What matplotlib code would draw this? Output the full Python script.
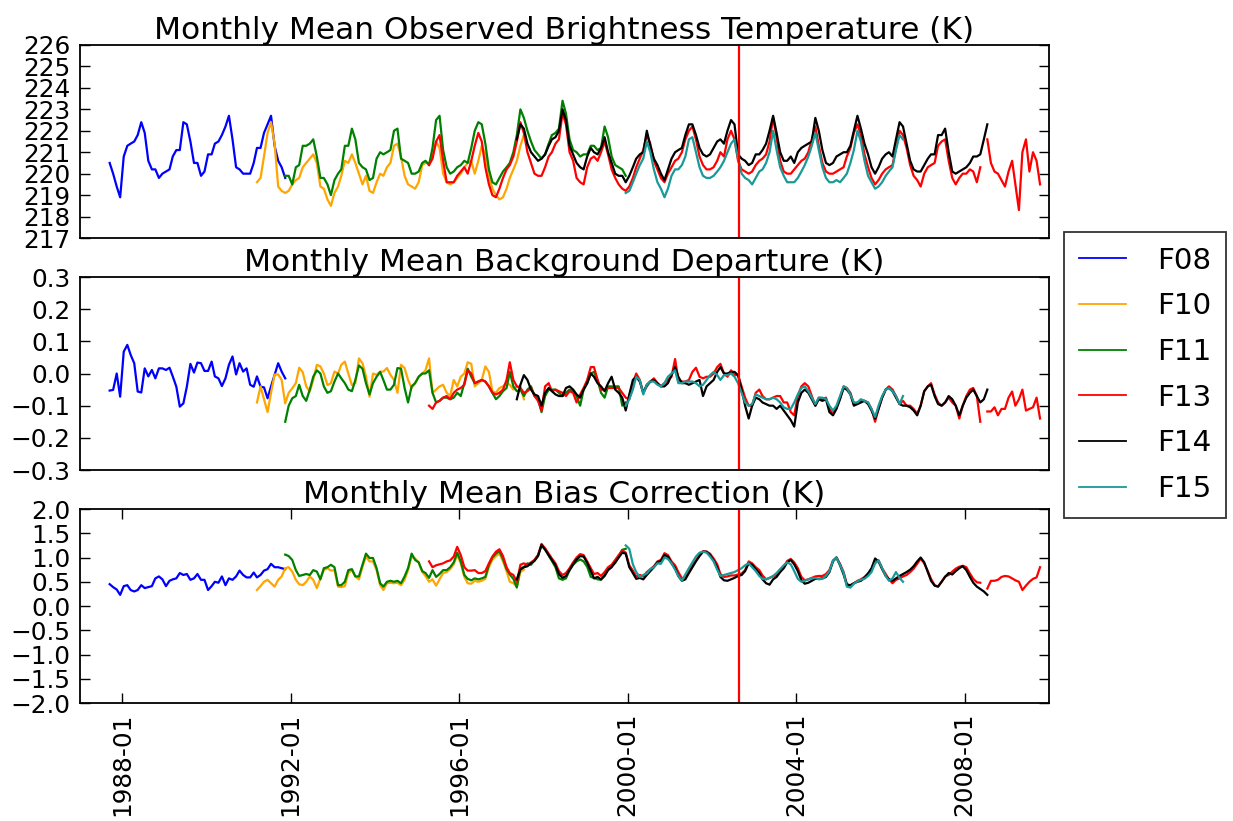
import numpy as np
import pandas as pd
import matplotlib
matplotlib.use('Agg')
import matplotlib.pyplot as plt
import matplotlib.dates as mdates
import datetime as dt

# first month of each satellite record
start_f08 = '1987-09'
start_f10 = '1991-03'
start_f11 = '1991-11'
start_f13 = '1995-04'
start_f14 = '1997-05'
start_f15 = '1999-12'

names = ['F08', 'F10', 'F11', 'F13', 'F14', 'F15']
colors = ['blue', 'orange', 'green', 'red', 'black', '#1a9999']

# observed brightness temperature (K)
tb_f08 = [220.5, 220.0, 219.4, 218.9, 220.8, 221.3, 221.4, 221.5, 221.8, 222.4,
          221.9, 220.6, 220.2, 220.2, 219.8, 220.0, 220.1, 220.2, 220.8, 221.1,
          221.1, 222.4, 222.3, 221.5, 220.5, 220.5, 219.9, 220.1, 220.9, 220.9,
          221.4, 221.5, 221.8, 222.2, 222.7, 221.6, 220.3, 220.2, 220.0, 220.0,
          220.0, 220.5, 221.2, 221.2, 221.9, 222.3, 222.7, 221.3, 220.6, 220.3, 219.8]
tb_f10 = [219.6, 219.8, 220.8, 221.9, 222.4, 221.4, 219.4, 219.2, 219.1, 219.2,
          219.5, 219.7, 219.8, 220.3, 220.5, 220.7, 220.9, 220.5, 219.4, 219.3,
          218.8, 218.5, 219.1, 219.4, 219.9, 220.6, 220.5, 220.9, 220.5, 220.0,
          219.5, 219.9, 219.2, 219.1, 219.6, 220.0, 219.9, 220.3, 220.5, 221.3,
          221.4, 220.8, 219.9, 219.5, 219.4, 219.3, 219.6, 220.4, 220.5, 220.5,
          220.8, 221.5, 221.2, 220.0, 219.6, 219.5, 219.6, 219.8, 220.0, 220.3,
          220.5, 220.6, 220.0, 220.6, 221.3, 220.9, 219.9, 219.3, 219.0, 218.8,
          218.9, 219.3, 219.8, 220.2, 220.6, 221.3, 221.8]
tb_f11 = [219.9, 219.9, 219.5, 220.3, 220.4, 221.3, 221.3, 221.4, 221.6, 220.8,
          219.8, 219.8, 219.5, 219.0, 219.7, 220.0, 220.2, 221.3, 221.3, 222.1,
          221.6, 220.5, 220.3, 220.2, 219.7, 219.8, 220.7, 221.0, 220.9, 221.0,
          221.1, 222.0, 222.1, 220.7, 220.6, 220.5, 220.0, 220.0, 220.1, 220.5,
          220.6, 220.4, 221.2, 222.5, 222.7, 221.1, 220.3, 220.0, 220.1, 220.3,
          220.4, 220.6, 220.5, 221.2, 222.0, 222.4, 222.3, 221.4, 220.2, 219.6,
          219.5, 219.8, 220.1, 220.3, 220.5, 221.0, 221.8, 223.0, 222.6, 222.0,
          221.5, 221.1, 220.9, 220.7, 220.9, 221.4, 221.8, 221.9, 222.1, 223.4,
          222.8, 221.6, 221.1, 221.0, 220.8, 220.9, 220.9, 221.3, 221.3, 221.1,
          221.2, 222.2, 221.7, 220.8, 220.4, 220.3, 220.2, 219.9]
tb_f13 = [220.4, 220.7, 221.5, 221.8, 220.6, 219.6, 219.6, 219.6, 219.9, 220.1,
          220.3, 220.0, 220.6, 221.3, 221.9, 221.5, 220.3, 219.5, 219.0, 218.9,
          219.3, 219.8, 220.2, 220.4, 220.8, 221.5, 222.4, 221.9, 221.0, 220.5,
          220.0, 219.9, 219.9, 220.3, 220.8, 221.0, 221.4, 221.6, 222.8, 222.3,
          221.0, 220.6, 219.8, 219.6, 219.5, 220.3, 220.7, 220.8, 220.6, 221.0,
          221.5, 220.9, 220.2, 219.8, 219.5, 219.3, 219.2, 219.4, 219.8, 220.3,
          220.7, 221.1, 221.8, 221.4, 220.6, 220.2, 219.8, 219.6, 220.0, 220.3,
          220.6, 220.7, 221.0, 221.6, 222.0, 222.2, 221.6, 220.8, 220.4, 220.2,
          220.2, 220.3, 220.6, 221.0, 220.8, 221.6, 222.0, 221.6, 220.6, 220.2,
          220.1, 220.0, 220.1, 220.4, 220.6, 220.7, 220.9, 221.5, 222.6, 221.7,
          220.6, 220.1, 220.0, 220.0, 220.2, 220.4, 220.6, 220.7, 221.0, 221.6,
          222.2, 221.3, 220.5, 220.1, 220.0, 220.0, 220.1, 220.2, 220.3, 220.8,
          221.2, 221.9, 222.3, 221.8, 220.9, 220.3, 219.8, 219.5, 219.7, 220.0,
          220.2, 220.3, 220.4, 221.2, 222.0, 221.8, 221.2, 220.4, 219.9, 219.7,
          219.4, 220.0, 220.3, 220.4, 220.5, 221.3, 221.5, 221.6, 220.6, 219.8,
          219.5, 219.8, 220.0, 220.0, 220.2, 220.1, 219.6, 220.3, np.nan, 221.6,
          220.5, 220.1, 220.0, 219.7, 219.4, 220.1, 220.6, 219.5, 218.3, 221.0,
          221.6, 220.1, 221.0, 220.6, 219.5]
tb_f14 = [221.6, 222.3, 222.1, 221.4, 221.0, 220.8, 220.6, 220.7, 220.9, 221.3,
          221.6, 221.7, 222.0, 223.0, 222.5, 221.3, 220.9, 220.5, 220.3, 220.2,
          220.8, 221.2, 221.0, 220.9, 221.2, 221.7, 221.0, 220.5, 220.0, 219.9,
          219.9, 219.6, 219.9, 220.3, 220.7, 220.9, 221.0, 222.0, 221.3, 220.7,
          220.4, 220.0, 219.7, 220.2, 220.7, 221.0, 221.1, 221.2, 221.8, 222.3,
          222.3, 221.8, 221.2, 220.9, 220.8, 220.9, 221.2, 221.5, 221.6, 221.4,
          222.0, 222.5, 222.3, 220.9, 220.7, 220.6, 220.4, 220.5, 220.9, 220.9,
          221.1, 221.4, 222.0, 222.7, 221.9, 221.0, 220.6, 220.6, 220.8, 220.5,
          221.0, 221.2, 221.3, 221.4, 221.5, 222.6, 222.0, 221.1, 220.5, 220.4,
          220.5, 220.8, 220.9, 221.0, 221.0, 221.3, 222.0, 222.7, 222.1, 221.4,
          220.9, 220.3, 220.0, 220.3, 220.7, 220.9, 221.0, 220.8, 221.6, 222.4,
          222.2, 221.4, 220.6, 220.2, 220.1, 220.1, 220.4, 220.7, 220.9, 220.9,
          221.8, 221.8, 222.1, 221.0, 220.1, 220.0, 220.1, 220.2, 220.3, 220.5,
          220.8, 220.8, 220.9, 221.6, 222.3]
tb_f15 = [219.1, 219.2, 219.6, 220.0, 220.4, 220.7, 221.5, 221.0, 220.2, 219.6,
          219.3, 218.9, 219.3, 219.9, 220.2, 220.2, 220.4, 220.8, 221.6, 221.7,
          221.0, 220.3, 219.9, 219.8, 219.8, 219.9, 220.1, 220.3, 220.6, 221.0,
          221.4, 221.6, 220.7, 220.0, 219.8, 219.7, 219.5, 219.8, 220.1, 220.2,
          220.5, 221.0, 222.0, 221.1, 220.3, 219.9, 219.6, 219.6, 219.6, 219.8,
          220.1, 220.4, 220.8, 221.3, 221.9, 221.1, 220.3, 219.8, 219.6, 219.6,
          219.7, 219.6, 219.8, 220.0, 220.5, 221.1, 222.0, 221.5, 220.6, 219.9,
          219.6, 219.3, 219.4, 219.6, 219.9, 220.1, 220.3, 221.1, 221.8, 221.6]

# background departure (K)
bd_f08 = [-0.053, -0.051, 0.000, -0.072, 0.068, 0.089, 0.058, 0.032, -0.056, -0.059,
          0.016, -0.009, 0.011, -0.015, 0.016, 0.016, 0.011, 0.018, -0.009, -0.041,
          -0.103, -0.093, -0.041, 0.030, 0.003, 0.034, 0.032, 0.008, 0.008, 0.037,
          -0.009, -0.015, -0.039, -0.015, 0.027, 0.053, -0.003, 0.032, 0.006, 0.016,
          -0.035, -0.041, -0.009, -0.041, -0.043, -0.077, -0.040, -0.004, 0.032, 0.006, -0.015]
bd_f10 = [-0.09, -0.04, -0.08, -0.12, -0.06, -0.003, -0.003, -0.02, -0.093, -0.06,
          -0.046, -0.03, 0.018, 0.004, -0.04, -0.056, -0.02, 0.027, 0.022, 0.0,
          -0.036, -0.03, 0.006, 0.0, 0.027, 0.037, 0.0, -0.036, -0.03, 0.047,
          0.032, -0.009, -0.072, 0.0, -0.004, 0.006, 0.006, 0.017, -0.004, -0.02,
          -0.06, 0.027, 0.017, -0.02, -0.045, -0.03, -0.01, 0.0, 0.01, 0.047,
          -0.06, -0.05, -0.04, -0.035, -0.06, -0.07, -0.02, -0.04, -0.01, 0.0,
          0.035, 0.03, -0.04, -0.03, -0.02, 0.022, 0.005, -0.055, -0.06, -0.045,
          -0.04, -0.03, -0.035, -0.05, -0.04, -0.04, -0.08]
bd_f11 = [-0.15, -0.10, -0.077, -0.07, -0.035, -0.07, -0.085, -0.05, -0.01, 0.01,
          0.0, -0.04, -0.06, -0.055, -0.025, 0.0, -0.015, -0.03, -0.05, -0.055,
          -0.02, 0.025, 0.015, -0.03, -0.065, -0.03, -0.01, 0.005, -0.02, -0.05,
          -0.05, -0.035, 0.017, 0.015, -0.045, -0.09, -0.04, -0.03, -0.01,
          0.0, 0.0, 0.01, -0.06, -0.09, -0.085, -0.075, -0.075, -0.08, -0.075,
          -0.06, -0.07, -0.03, 0.015, -0.01, -0.03, -0.025, -0.02, -0.025, -0.04,
          -0.06, -0.08, -0.07, -0.055, -0.045, 0.005, -0.04, -0.055, -0.05, -0.07,
          -0.05, -0.04, -0.07, -0.08, -0.12, -0.07, -0.05, -0.05, -0.05, -0.06,
          -0.07, -0.06, -0.05, -0.055, -0.07, -0.10, -0.05, -0.03, 0.0, 0.005,
          -0.02, -0.06, -0.075, -0.04, -0.04, -0.04, -0.04, -0.10, -0.09]
bd_f13 = [-0.10, -0.11, -0.09, -0.085, -0.075, -0.07, -0.08, -0.06, -0.05, -0.045,
          -0.035, 0.01, 0.0, -0.03, -0.025, -0.02, -0.025, -0.04, -0.06, -0.065,
          -0.06, -0.05, -0.02, 0.035, -0.02, -0.04, -0.045, -0.06, -0.055, -0.045,
          -0.07, -0.085, -0.115, -0.04, -0.03, -0.055, -0.05, -0.055, -0.06, -0.07,
          -0.055, -0.06, -0.09, -0.065, -0.045, -0.02, 0.02, 0.02, -0.02, -0.05,
          -0.05, -0.045, -0.045, -0.045, -0.045, -0.06, -0.075, -0.08, -0.03, 0.0,
          -0.02, -0.06, -0.04, -0.025, -0.015, -0.03, -0.04, -0.03, -0.02, -0.01,
          0.045, -0.02, -0.025, -0.025, -0.02, 0.005, 0.018, -0.01, -0.015, -0.01,
          -0.01, 0.0, 0.02, 0.03, 0.0, -0.01, 0.01, -0.005, -0.005, -0.04,
          -0.075, -0.1, -0.1, -0.06, -0.05, -0.07, -0.08, -0.08, -0.075, -0.07,
          -0.07, -0.09, -0.09, -0.12, -0.13, -0.07, -0.04, -0.03, -0.04, -0.07,
          -0.10, -0.075, -0.08, -0.075, -0.11, -0.125, -0.105, -0.075, -0.04, -0.045,
          -0.06, -0.095, -0.09, -0.085, -0.085, -0.09, -0.11, -0.15, -0.11, -0.075,
          -0.05, -0.04, -0.05, -0.07, -0.095, -0.085, -0.10, -0.10, -0.11, -0.125,
          -0.1, -0.055, -0.04, -0.03, -0.065, -0.09, -0.1, -0.09, -0.075, -0.09,
          -0.1, -0.14, -0.1, -0.07, -0.05, -0.045, -0.07, -0.15, np.nan, -0.118,
          -0.118, -0.105, -0.13, -0.11, -0.11, -0.075, -0.056, -0.1, -0.08, -0.05,
          -0.115, -0.11, -0.105, -0.075, -0.14]
bd_f14 = [-0.08, -0.035, -0.005, -0.02, -0.05, -0.065, -0.07, -0.10, -0.06, -0.045,
          -0.055, -0.065, -0.07, -0.07, -0.045, -0.04, -0.05, -0.065, -0.075, -0.05,
          -0.03, 0.0, -0.01, -0.03, -0.04, -0.055, -0.03, -0.01, -0.05, -0.06,
          -0.075, -0.115, -0.065, -0.02, -0.01, -0.025, -0.06, -0.035, -0.025, -0.02,
          -0.03, -0.04, -0.04, -0.03, -0.005, 0.02, -0.01, -0.03, -0.03, -0.035,
          -0.03, -0.025, -0.02, -0.07, -0.04, -0.03, -0.02, 0.005, 0.02, 0.0,
          0.0, 0.005, 0.005, -0.005, -0.05, -0.1, -0.14, -0.1, -0.075, -0.08,
          -0.09, -0.095, -0.1, -0.1, -0.11, -0.1, -0.115, -0.13, -0.145, -0.165,
          -0.09, -0.06, -0.05, -0.06, -0.08, -0.1, -0.08, -0.085, -0.08, -0.12,
          -0.13, -0.11, -0.08, -0.045, -0.05, -0.065, -0.10, -0.095, -0.09, -0.085,
          -0.095, -0.115, -0.14, -0.11, -0.075, -0.05, -0.045, -0.055, -0.075, -0.095,
          -0.1, -0.1, -0.105, -0.115, -0.13, -0.1, -0.055, -0.04, -0.035, -0.07,
          -0.095, -0.1, -0.09, -0.07, -0.08, -0.1, -0.13, -0.1, -0.075, -0.06,
          -0.05, -0.07, -0.09, -0.08, -0.05]
bd_f15 = [-0.10, -0.08, -0.05, -0.01, -0.02, -0.065, -0.035, -0.025, -0.025, -0.035,
          -0.04, -0.03, -0.01, 0.0, 0.01, -0.03, -0.03, -0.025, -0.025, -0.025,
          -0.03, -0.04, -0.035, -0.02, -0.005, 0.005, -0.005, -0.02, -0.005, -0.005,
          0.0, -0.01, -0.03, -0.06, -0.09, -0.1, -0.095, -0.065, -0.07, -0.075,
          -0.08, -0.08, -0.075, -0.08, -0.09, -0.105, -0.11, -0.11, -0.09, -0.065,
          -0.045, -0.04, -0.055, -0.075, -0.095, -0.075, -0.075, -0.08, -0.1, -0.115,
          -0.1, -0.07, -0.04, -0.045, -0.065, -0.09, -0.09, -0.08, -0.085, -0.09,
          -0.11, -0.135, -0.1, -0.07, -0.05, -0.045, -0.055, -0.07, -0.095, -0.07]

# bias correction (K)
bc_f08 = [0.45, 0.39, 0.34, 0.23, 0.41, 0.43, 0.33, 0.30, 0.33, 0.43,
          0.37, 0.39, 0.41, 0.57, 0.61, 0.55, 0.41, 0.52, 0.55, 0.57,
          0.68, 0.64, 0.66, 0.54, 0.57, 0.66, 0.54, 0.54, 0.33, 0.41,
          0.50, 0.48, 0.61, 0.43, 0.57, 0.54, 0.61, 0.73, 0.64, 0.59,
          0.59, 0.69, 0.59, 0.64, 0.73, 0.76, 0.87, 0.80, 0.80, 0.78, 0.76]
bc_f10 = [0.33, 0.41, 0.50, 0.54, 0.47, 0.40, 0.54, 0.61, 0.78, 0.80,
          0.71, 0.54, 0.45, 0.43, 0.50, 0.61, 0.54, 0.37, 0.57, 0.74,
          0.78, 0.73, 0.74, 0.40, 0.39, 0.41, 0.68, 0.74, 0.61, 0.55,
          0.81, 1.02, 0.92, 0.92, 0.74, 0.43, 0.33, 0.47, 0.48, 0.47,
          0.48, 0.43, 0.54, 0.74, 1.02, 0.98, 0.90, 0.70, 0.62, 0.50,
          0.55, 0.42, 0.55, 0.68, 0.70, 0.76, 0.86, 1.05, 0.88, 0.60,
          0.47, 0.46, 0.52, 0.50, 0.52, 0.56, 0.80, 0.95, 1.03, 1.08,
          0.92, 0.72, 0.50, 0.47, 0.40, 0.70, 0.75]
bc_f11 = [1.06, 1.03, 0.95, 0.74, 0.62, 0.64, 0.66, 0.64, 0.74, 0.71,
          0.55, 0.78, 0.80, 0.85, 0.80, 0.43, 0.43, 0.50, 0.74, 0.76,
          0.61, 0.61, 0.85, 1.08, 0.99, 0.99, 0.78, 0.47, 0.40, 0.50,
          0.52, 0.50, 0.52, 0.47, 0.61, 0.78, 1.08, 0.95, 0.90,
          0.72, 0.68, 0.58, 0.74, 0.60, 0.66, 0.74, 0.74, 0.80, 0.90,
          1.10, 0.92, 0.64, 0.56, 0.53, 0.57, 0.55, 0.57, 0.60, 0.85,
          1.00, 1.08, 1.13, 0.97, 0.76, 0.65, 0.56, 0.38, 0.78, 0.80,
          0.88, 0.85, 0.95, 1.05, 1.25, 1.18, 1.04, 0.93, 0.80, 0.57,
          0.54, 0.57, 0.74, 0.85, 0.92, 0.96, 0.92, 0.81, 0.60, 0.58,
          0.55, 0.54, 0.64, 0.75, 0.82, 0.89, 1.02, 1.16, 1.18]
bc_f13 = [0.92, 0.80, 0.84, 0.86, 0.88, 0.92, 0.94, 1.02, 1.22, 1.05,
          0.80, 0.73, 0.73, 0.74, 0.68, 0.68, 0.72, 0.88, 1.02, 1.12,
          1.17, 1.03, 0.80, 0.68, 0.64, 0.50, 0.85, 0.88, 0.85, 0.90,
          0.95, 1.05, 1.28, 1.19, 1.08, 0.98, 0.88, 0.72, 0.64, 0.68,
          0.78, 0.90, 1.00, 1.07, 1.05, 0.92, 0.78, 0.66, 0.68, 0.62,
          0.70, 0.80, 0.85, 0.95, 1.05, 1.15, 1.10, 0.84, 0.73, 0.61,
          0.64, 0.61, 0.70, 0.76, 0.82, 0.92, 0.95, 1.09, 1.05, 0.92,
          0.84, 0.70, 0.57, 0.60, 0.73, 0.85, 0.94, 1.05, 1.13, 1.12,
          1.08, 0.98, 0.86, 0.66, 0.60, 0.61, 0.63, 0.63, 0.65, 0.67,
          0.74, 0.92, 0.88, 0.80, 0.74, 0.63, 0.55, 0.58, 0.61, 0.64,
          0.75, 0.81, 0.93, 0.97, 0.90, 0.78, 0.60, 0.53, 0.55, 0.58,
          0.61, 0.62, 0.62, 0.66, 0.74, 0.94, 1.00, 0.87, 0.70, 0.45,
          0.42, 0.47, 0.52, 0.55, 0.60, 0.67, 0.75, 0.90, 0.94, 0.78,
          0.66, 0.55, 0.47, 0.54, 0.57, 0.61, 0.64, 0.70, 0.77, 0.87,
          0.98, 0.88, 0.72, 0.56, 0.43, 0.40, 0.50, 0.61, 0.64, 0.71,
          0.77, 0.81, 0.83, 0.80, 0.67, 0.56, 0.49, 0.48, np.nan, 0.36,
          0.52, 0.52, 0.54, 0.60, 0.62, 0.61, 0.57, 0.53, 0.50, 0.33,
          0.42, 0.50, 0.56, 0.59, 0.80]
bc_f14 = [0.55, 0.75, 0.80, 0.82, 0.88, 0.93, 1.03, 1.26, 1.16, 1.05,
          0.95, 0.84, 0.66, 0.58, 0.62, 0.74, 0.86, 0.96, 1.03, 1.02,
          0.89, 0.72, 0.57, 0.60, 0.55, 0.62, 0.74, 0.80, 0.90, 1.00,
          1.10, 1.08, 0.80, 0.68, 0.56, 0.58, 0.55, 0.64, 0.72, 0.80,
          0.90, 0.93, 1.05, 1.02, 0.88, 0.78, 0.62, 0.52, 0.55, 0.68,
          0.80, 0.92, 1.03, 1.12, 1.12, 1.05, 0.94, 0.80, 0.60, 0.53,
          0.52, 0.55, 0.58, 0.62, 0.64, 0.72, 0.88, 0.85, 0.76, 0.68,
          0.55, 0.47, 0.44, 0.55, 0.60, 0.70, 0.78, 0.90, 0.95, 0.86,
          0.72, 0.53, 0.46, 0.48, 0.52, 0.56, 0.56, 0.57, 0.60, 0.70,
          0.92, 1.00, 0.84, 0.65, 0.44, 0.43, 0.47, 0.50, 0.52, 0.58,
          0.67, 0.78, 0.98, 0.92, 0.76, 0.62, 0.55, 0.52, 0.57, 0.62,
          0.66, 0.70, 0.75, 0.82, 0.92, 1.00, 0.90, 0.70, 0.52, 0.42,
          0.40, 0.50, 0.60, 0.68, 0.65, 0.72, 0.78, 0.82, 0.74, 0.60,
          0.48, 0.40, 0.35, 0.30, 0.23]
bc_f15 = [1.25, 1.18, 0.86, 0.70, 0.60, 0.64, 0.67, 0.76, 0.80, 0.88,
          0.87, 1.00, 0.97, 0.88, 0.75, 0.62, 0.52, 0.65, 0.78, 0.90,
          1.02, 1.10, 1.12, 1.10, 1.02, 0.92, 0.75, 0.62, 0.64, 0.66,
          0.68, 0.70, 0.74, 0.78, 0.84, 0.88, 0.80, 0.72, 0.62, 0.56,
          0.55, 0.58, 0.62, 0.68, 0.76, 0.84, 0.90, 0.86, 0.72, 0.56,
          0.50, 0.52, 0.55, 0.57, 0.58, 0.55, 0.56, 0.62, 0.72, 0.93,
          1.00, 0.85, 0.68, 0.40, 0.38, 0.46, 0.51, 0.54, 0.56, 0.62,
          0.70, 0.88, 0.94, 0.78, 0.62, 0.52, 0.57, 0.70, 0.58, 0.50]

starts = [start_f08, start_f10, start_f11, start_f13, start_f14, start_f15]
panels = [
    ('Monthly Mean Observed Brightness Temperature (K)',
     [tb_f08, tb_f10, tb_f11, tb_f13, tb_f14, tb_f15], (217, 226), np.arange(217, 227, 1)),
    ('Monthly Mean Background Departure (K)',
     [bd_f08, bd_f10, bd_f11, bd_f13, bd_f14, bd_f15], (-0.3, 0.3), np.linspace(-0.3, 0.3, 7)),
    ('Monthly Mean Bias Correction (K)',
     [bc_f08, bc_f10, bc_f11, bc_f13, bc_f14, bc_f15], (-2.0, 2.0), np.linspace(-2.0, 2.0, 9)),
]
change_date = dt.datetime(2002, 8, 20)

def month_dates(start, n):
    # monthly means plotted at mid month
    return pd.date_range(start, periods=n, freq='MS') + pd.Timedelta(days=14)

fig = plt.figure(figsize=(12.33, 8.21), dpi=100)
boxes = [[0.0649, 0.7101, 0.7859, 0.2351],
         [0.0649, 0.4275, 0.7859, 0.2351],
         [0.0649, 0.1437, 0.7859, 0.2363]]

tick_fs = 17.8
title_fs = 22.5
for i, (title, series, ylim, yticks) in enumerate(panels):
    ax = fig.add_axes(boxes[i])
    for name, col, st, vals in zip(names, colors, starts, series):
        ax.plot(month_dates(st, len(vals)), vals, color=col, lw=1.6, label=name)
    ax.axvline(change_date, color='red', lw=1.6)
    ax.set_xlim(dt.datetime(1987, 1, 1), dt.datetime(2010, 1, 1))
    ax.set_ylim(ylim)
    ax.set_yticks(yticks)
    ax.set_title(title, fontsize=title_fs, pad=4)
    for s in ax.spines.values():
        s.set_linewidth(1.3)
    ax.tick_params(axis='y', direction='in', left=True, right=True, length=7,
                   width=1, labelsize=tick_fs, pad=7)
    if i < 2:
        ax.tick_params(axis='x', bottom=False, top=False, labelbottom=False)
    else:
        ax.xaxis.set_major_locator(mdates.YearLocator(4))
        ax.xaxis.set_major_formatter(mdates.DateFormatter('%Y-%m'))
        ax.tick_params(axis='x', direction='in', bottom=True, top=True, length=7,
                       width=1, labelsize=tick_fs, pad=7, labelrotation=90)
    if i == 0:
        handles, labels = ax.get_legend_handles_labels()

leg = fig.legend(handles, labels, loc='upper left', bbox_to_anchor=(1064 / 1233, 1 - 232 / 821),
                 fontsize=21.2, frameon=True, fancybox=False, handlelength=1.6,
                 handletextpad=1.05, labelspacing=0.6, borderpad=0.5, borderaxespad=0)
leg.get_frame().set_edgecolor('black')
leg.get_frame().set_linewidth(1.3)
for ln in leg.get_lines():
    ln.set_linewidth(1.3)

fig.savefig('out.png', dpi=100, facecolor='white')
